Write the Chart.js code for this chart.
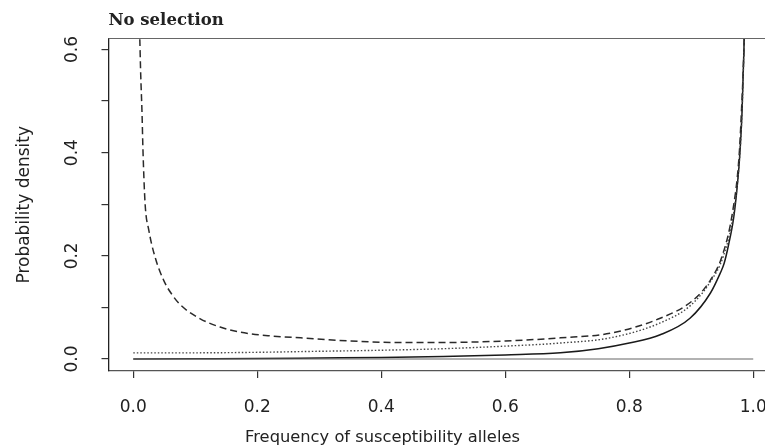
<!DOCTYPE html>
<html>
<head>
<meta charset="utf-8">
<script src="https://cdn.jsdelivr.net/npm/chart.js@4"></script>
<style>
  html, body { margin: 0; padding: 0; background: #fff; overflow: hidden; }
  canvas { display: block; }
</style>
</head>
<body>
<canvas id="chart" width="765" height="448"></canvas>
<script>
// frequency / density pairs
const freqSolid = [0, 0.1, 0.2, 0.3, 0.4, 0.5, 0.6, 0.689, 0.75, 0.8, 0.85, 0.898, 0.931, 0.947, 0.953, 0.96, 0.968, 0.973, 0.978, 0.982, 0.985, 0.988];
const densSolid = [0, 0.0005, 0.001, 0.002, 0.003, 0.005, 0.008, 0.012, 0.02, 0.031, 0.047, 0.079, 0.128, 0.167, 0.185, 0.22, 0.27, 0.32, 0.39, 0.48, 0.6, 0.75];

const freqDashed = [0.0105, 0.012, 0.014, 0.0156, 0.019, 0.025, 0.035, 0.05, 0.063, 0.076, 0.108, 0.14, 0.173, 0.22, 0.27, 0.35, 0.43, 0.5, 0.6, 0.689, 0.769, 0.85, 0.903, 0.931, 0.95, 0.966, 0.977, 0.981, 0.985, 0.988];
const densDashed = [0.62, 0.55, 0.48, 0.405, 0.302, 0.25, 0.198, 0.15, 0.124, 0.105, 0.078, 0.062, 0.052, 0.045, 0.041, 0.035, 0.032, 0.032, 0.035, 0.041, 0.05, 0.079, 0.114, 0.153, 0.2, 0.28, 0.39, 0.48, 0.6, 0.75];

const freqDotted = [0, 0.1, 0.2, 0.3, 0.4, 0.5, 0.6, 0.689, 0.769, 0.85, 0.9, 0.931, 0.952, 0.968, 0.978, 0.982, 0.985, 0.988];
const densDotted = [0.012, 0.012, 0.013, 0.015, 0.017, 0.02, 0.025, 0.031, 0.041, 0.07, 0.105, 0.15, 0.2, 0.28, 0.39, 0.48, 0.6, 0.75];

const freqBase = [0, 1];
const densBase = [0, 0];

const xTicks = [0, 0.2, 0.4, 0.6, 0.8, 1.0];
const yTicks = [0, 0.1, 0.2, 0.3, 0.4, 0.5, 0.6];
const yLabelled = [0, 0.2, 0.4, 0.6];

const pts = (xs, ys) => xs.map((x, i) => ({ x: x, y: ys[i] }));

// top edge of the box
const boxTop = {
  id: "boxTop",
  afterDraw(chart) {
    const a = chart.chartArea, ctx = chart.ctx;
    ctx.save();
    ctx.strokeStyle = "#666";
    ctx.lineWidth = 1.2;
    ctx.beginPath();
    ctx.moveTo(a.left, a.top);
    ctx.lineTo(a.right, a.top);
    ctx.stroke();
    ctx.restore();
  }
};

const line = (data, color, dash, width) => ({
  data: data,
  borderColor: color,
  borderWidth: width,
  borderDash: dash,
  pointRadius: 0,
  fill: false,
  cubicInterpolationMode: "monotone"
});

new Chart(document.getElementById("chart"), {
  type: "line",
  data: {
    datasets: [
      line(pts(freqBase, densBase), "#666", [], 1.2),
      line(pts(freqDotted, densDotted), "#444", [1.5, 2], 1.4),
      line(pts(freqDashed, densDashed), "#2a2a2a", [7, 4], 1.5),
      line(pts(freqSolid, densSolid), "#1a1a1a", [], 1.5)
    ]
  },
  options: {
    responsive: false,
    animation: false,
    layout: { padding: 0 },
    plugins: {
      legend: { display: false },
      tooltip: { enabled: false },
      title: {
        display: true,
        text: "No selection",
        align: "start",
        fullSize: false,
        color: "#222",
        font: { family: "DejaVu Serif", weight: "bold", size: 16.5, lineHeight: 1.2 },
        padding: { top: 11, bottom: 7.7 }
      },
      subtitle: {
        display: true,
        position: "bottom",
        text: "Frequency of susceptibility alleles",
        color: "#222",
        font: { family: "DejaVu Sans", size: 16.3, lineHeight: 1.2 },
        padding: { top: 0, bottom: 0.2 }
      }
    },
    scales: {
      x: {
        type: "linear",
        min: -0.04,
        max: 1.019,
        afterFit: s => { s.height = 57.2; s.paddingLeft = 0; s.paddingRight = 0; },
        afterBuildTicks: s => { s.ticks = xTicks.map(v => ({ value: v })); },
        border: { display: true, color: "#555", width: 1.2 },
        grid: { drawOnChartArea: false, drawTicks: true, tickLength: 7, color: "#333", lineWidth: 1.2 },
        ticks: {
          color: "#222",
          padding: 19.3,
          maxRotation: 0,
          font: { family: "DejaVu Sans", size: 17 },
          callback: v => v.toFixed(1)
        }
      },
      y: {
        min: -0.0233,
        max: 0.6213,
        afterFit: s => { s.width = 108.5; s.paddingTop = 0; s.paddingBottom = 0; },
        afterBuildTicks: s => { s.ticks = yTicks.map(v => ({ value: v })); },
        border: { display: true, color: "#222", width: 1.3 },
        grid: { drawOnChartArea: false, drawTicks: true, tickLength: 7, color: "#333", lineWidth: 1.2 },
        title: {
          display: true,
          text: "Probability density",
          color: "#222",
          font: { family: "DejaVu Sans", size: 17, lineHeight: 1.2 },
          padding: { top: 14.8, bottom: 0 }
        },
        ticks: {
          color: "#222",
          padding: 15,
          minRotation: 90,
          maxRotation: 90,
          crossAlign: "center",
          font: { family: "DejaVu Sans", size: 17 },
          callback: v => yLabelled.some(t => Math.abs(t - v) < 1e-9) ? v.toFixed(1) : ""
        }
      }
    }
  },
  plugins: [boxTop]
});
</script>
</body>
</html>
